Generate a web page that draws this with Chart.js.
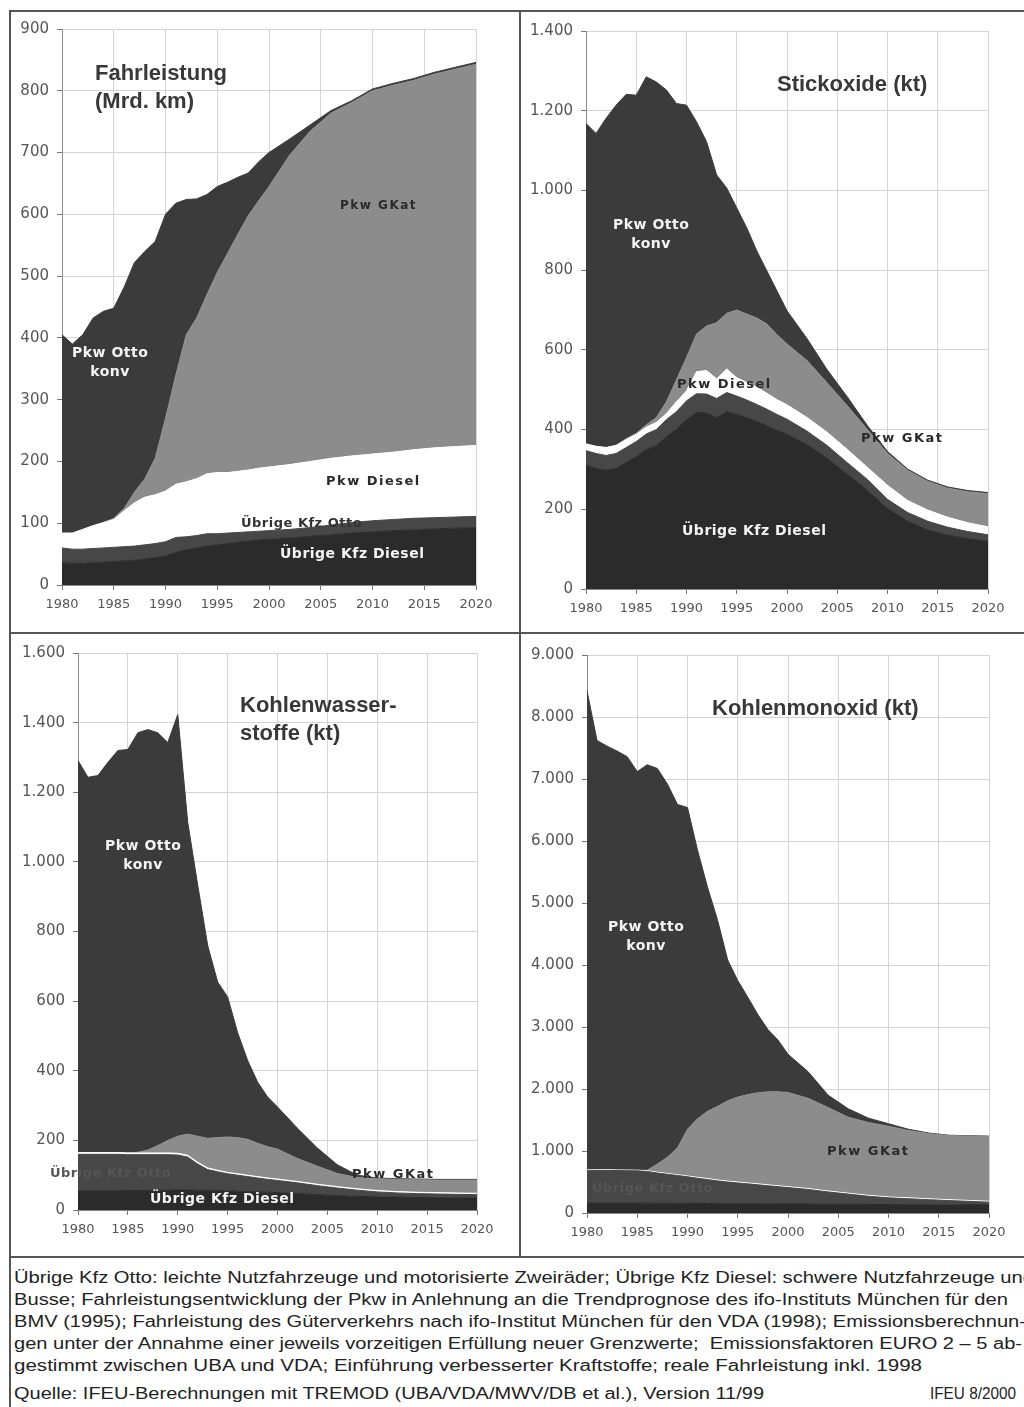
<!DOCTYPE html>
<html lang="de">
<head>
<meta charset="utf-8">
<script src="https://cdn.jsdelivr.net/npm/chart.js@4"></script>
<style>
  body { margin: 0; background: #fff; }
  #page { position: relative; width: 1024px; height: 1407px; overflow: hidden; background: #fff; }
  .ln { position: absolute; background: #555; }
  .box { position: absolute; }
  .ttl { position: absolute; font: bold 22px "Liberation Sans", Arial, sans-serif; color: #383838; line-height: 28px; white-space: nowrap; }
  .lbl { position: absolute; font: bold 14px "DejaVu Sans", sans-serif; white-space: nowrap; line-height: 19px; letter-spacing: 0.5px; }
  .w { color: #f4f4f4; text-align: center; }
  .d { color: #2a2a2a; font-size: 13px; letter-spacing: 1.5px; }
  .m { color: #555; font-size: 13px; letter-spacing: 0.5px; }
  .fl { position: absolute; left: 14px; font: 16px "Liberation Sans", Arial, sans-serif; color: #222; line-height: 22px; white-space: nowrap; transform-origin: 0 0; }
</style>
</head>
<body>
<div id="page">
  <div class="ln" style="left:9px;top:10px;width:1015px;height:2px"></div>
  <div class="ln" style="left:9px;top:10px;width:2px;height:1397px"></div>
  <div class="ln" style="left:519px;top:10px;width:2px;height:1247px"></div>
  <div class="ln" style="left:9px;top:632px;width:1015px;height:2px"></div>
  <div class="ln" style="left:9px;top:1256px;width:1015px;height:2px"></div>

  <div class="box" style="left:10px;top:12px"><canvas id="c1" width="500" height="612"></canvas></div>
  <div class="box" style="left:522px;top:14px"><canvas id="c2" width="498" height="612"></canvas></div>
  <div class="box" style="left:10px;top:636px"><canvas id="c3" width="500" height="616"></canvas></div>
  <div class="box" style="left:522px;top:638px"><canvas id="c4" width="498" height="614"></canvas></div>

  <div class="ttl" style="left:95px;top:59px">Fahrleistung<br>(Mrd. km)</div>
  <div class="ttl" style="left:777px;top:70px">Stickoxide (kt)</div>
  <div class="ttl" style="left:240px;top:691px">Kohlenwasser-<br>stoffe (kt)</div>
  <div class="ttl" style="left:712px;top:694px">Kohlenmonoxid (kt)</div>

  <!-- panel 1 -->
  <div class="lbl w" style="left:72px;top:343px">Pkw Otto<br>konv</div>
  <div class="lbl d" style="left:340px;top:196px;font-size:12px">Pkw GKat</div>
  <div class="lbl d" style="left:326px;top:471px">Pkw Diesel</div>
  <div class="lbl m" style="left:241px;top:513px;color:#333">Übrige Kfz Otto</div>
  <div class="lbl w" style="left:280px;top:544px">Übrige Kfz Diesel</div>
  <!-- panel 2 -->
  <div class="lbl w" style="left:613px;top:215px">Pkw Otto<br>konv</div>
  <div class="lbl d" style="left:677px;top:374px">Pkw Diesel</div>
  <div class="lbl d" style="left:861px;top:428px">Pkw GKat</div>
  <div class="lbl w" style="left:682px;top:521px">Übrige Kfz Diesel</div>
  <!-- panel 3 -->
  <div class="lbl w" style="left:105px;top:836px">Pkw Otto<br>konv</div>
  <div class="lbl m" style="left:50px;top:1163px">Übrige Kfz Otto</div>
  <div class="lbl d" style="left:352px;top:1164px">Pkw GKat</div>
  <div class="lbl w" style="left:150px;top:1189px">Übrige Kfz Diesel</div>
  <!-- panel 4 -->
  <div class="lbl w" style="left:608px;top:917px">Pkw Otto<br>konv</div>
  <div class="lbl d" style="left:827px;top:1141px">Pkw GKat</div>
  <div class="lbl m" style="left:592px;top:1178px">Übrige Kfz Otto</div>

  <div class="fl" style="top:1267px" data-w="1020">Übrige Kfz Otto: leichte Nutzfahrzeuge und motorisierte Zweiräder; Übrige Kfz Diesel: schwere Nutzfahrzeuge und</div>
  <div class="fl" style="top:1289px" data-w="994">Busse; Fahrleistungsentwicklung der Pkw in Anlehnung an die Trendprognose des ifo-Instituts München für den</div>
  <div class="fl" style="top:1311px" data-w="1012">BMV (1995); Fahrleistung des Güterverkehrs nach ifo-Institut München für den VDA (1998); Emissionsberechnun-</div>
  <div class="fl" style="top:1333px" data-w="1008">gen unter der Annahme einer jeweils vorzeitigen Erfüllung neuer Grenzwerte;&nbsp; Emissionsfaktoren EURO 2 – 5 ab-</div>
  <div class="fl" style="top:1355px" data-w="908">gestimmt zwischen UBA und VDA; Einführung verbesserter Kraftstoffe; reale Fahrleistung inkl. 1998</div>
  <div class="fl" style="top:1383px" data-w="750">Quelle: IFEU-Berechnungen mit TREMOD (UBA/VDA/MWV/DB et al.), Version 11/99</div>
  <div class="fl" style="top:1383px;left:930px" data-w="86">IFEU 8/2000</div>
</div>

<script>
// years on the x axis (yearly until 2000, then every second year)
const years = [1980,1981,1982,1983,1984,1985,1986,1987,1988,1989,1990,1991,1992,1993,1994,1995,1996,1997,1998,1999,2000,
               2002,2004,2006,2008,2010,2012,2014,2016,2018,2020];
const xTicks = [1980,1985,1990,1995,2000,2005,2010,2015,2020];

// Fahrleistung (Mrd. km)
const fahrUebrigeDiesel = [36,35,35,36,37,38,39,40,42,44,47,53,57,60,63,65,67,69,71,73,74,76,79,81,84,86,88,89,91,92,93];
const fahrUebrigeOtto   = [24,23,23,23,23,23,23,23,23,23,23,24,21,20,20,18,17,16,15,14,14,14,14,16,17,18,18,19,18,18,18];
const fahrPkwDiesel     = [24,26,32,37,41,45,58,70,77,79,82,86,89,92,97,99,98,99,100,102,103,105,107,108,108,108,109,111,113,114,115];
const fahrPkwGKat       = [0,0,0,0,0,2,4,17,30,59,118,177,238,260,290,324,355,384,412,433,454,501,535,559,572,588,594,598,605,611,617];
const fahrPkwOttoKonv   = [321,306,315,336,342,340,358,372,368,351,330,278,219,193,162,139,115,92,69,63,55,26,10,4,3,3,3,3,3,3,3];

// Stickoxide (kt)
const noxUebrigeDiesel = [310,303,298,303,318,332,350,360,383,400,425,443,442,430,445,438,430,420,410,398,388,362,328,288,248,202,170,148,135,126,120];
const noxUebrigeOtto   = [37,37,37,37,37,38,39,40,42,45,47,47,47,48,48,46,44,43,41,40,38,34,32,29,27,23,22,22,20,18,16];
const noxPkwDiesel     = [17,18,20,20,20,18,17,18,15,25,25,55,59,49,59,46,44,43,40,37,36,34,33,33,30,35,30,28,25,22,20];
const noxPkwGKat       = [0,0,0,1,2,3,6,12,30,55,84,95,112,141,140,170,172,174,174,163,153,143,124,110,95,80,76,72,73,78,83];
const noxPkwOttoKonv   = [804,785,826,853,864,848,873,842,782,693,633,532,462,371,314,256,216,168,133,110,83,55,33,22,10,5,3,3,3,3,3];

// Kohlenwasserstoffe (kt)
const hcUebrigeDiesel = [55,55,55,55,55,56,56,56,57,57,58,58,57,57,56,55,54,53,52,51,50,47,44,41,39,38,37,36,35,35,35];
const hcUebrigeOtto   = [105,105,105,105,105,103,103,103,102,102,100,94,75,59,54,49,46,43,40,37,35,31,26,22,18,14,12,11,11,10,9];
const hcPkwDiesel     = [5,5,5,5,5,5,5,5,5,5,5,5,5,5,4,4,4,4,4,4,4,4,4,4,4,4,4,4,4,4,4];
const hcPkwGKat       = [0,0,0,0,0,0,2,8,21,36,49,61,75,85,94,102,104,103,96,90,86,66,52,38,32,34,35,36,36,37,38];
const hcPkwOttoKonv   = [1126,1078,1083,1121,1155,1159,1205,1208,1186,1143,1211,896,722,554,447,402,302,227,176,143,121,87,52,25,7,2,2,2,2,2,2];

// Kohlenmonoxid (kt)
const coUebrigeDiesel = [160,160,160,160,160,160,158,157,156,155,154,154,153,152,151,150,150,149,148,147,146,144,142,140,138,136,134,133,132,131,130];
const coUebrigeOtto   = [530,528,526,524,522,520,512,488,469,450,431,406,387,366,349,335,320,306,292,278,264,236,198,165,132,109,96,82,68,57,45];
const coPkwDiesel     = [10,10,10,10,10,10,12,13,13,13,13,15,15,15,15,15,15,15,15,15,15,15,15,15,15,15,15,15,15,15,15];
const coPkwGKat       = [0,0,0,0,0,0,8,132,262,432,752,945,1085,1187,1295,1370,1425,1470,1500,1515,1520,1455,1345,1225,1175,1140,1085,1050,1035,1037,1045];
const coPkwOttoKonv   = [7720,6922,6834,6756,6668,6430,6540,6380,6020,5540,5190,4330,3610,3000,2270,1880,1570,1260,1005,835,615,430,200,135,70,40,20,10,5,5,5];

const seriesNames = ["Übrige Kfz Diesel", "Übrige Kfz Otto", "Pkw Diesel", "Pkw GKat", "Pkw Otto konv"];
const seriesColors = ["#2b2b2b", "#474747", "#ffffff", "#8c8c8c", "#3b3b3b"];

// 1400 -> "1.400"
let deNum = function(v) {
    return String(v).replace(/\B(?=(\d{3})+(?!\d))/g, ".");
};

let makeChart = function(id, values, yMax, yStep, yWidth, xHeight, pad) {
    let ctx = document.getElementById(id).getContext("2d");
    let datasets = values.map(function(vals, i) {
        return {
            label: seriesNames[i],
            data: vals,
            backgroundColor: seriesColors[i],
            borderColor: seriesColors[i],
            borderWidth: 1,
            pointRadius: 0,
            tension: 0,
            fill: i === 0 ? "origin" : "-1"
        };
    });
    return new Chart(ctx, {
        type: "line",
        data: { labels: years, datasets: datasets },
        options: {
            responsive: false,
            animation: false,
            layout: { padding: pad },
            plugins: { legend: { display: false }, tooltip: { enabled: false } },
            scales: {
                x: {
                    type: "linear",
                    min: 1980,
                    max: 2020,
                    afterFit: function(s) { s.height = xHeight; },
                    afterBuildTicks: function(s) { s.ticks = xTicks.map(function(v) { return { value: v }; }); },
                    grid: { color: "#d4d4d4", tickColor: "#777", tickLength: 5 },
                    border: { color: "#8a8a8a", width: 1 },
                    ticks: {
                        autoSkip: false,
                        maxRotation: 0,
                        padding: 7,
                        color: "#555",
                        font: { family: "DejaVu Sans", size: 13 },
                        callback: function(v) { return String(v); }
                    }
                },
                y: {
                    stacked: true,
                    min: 0,
                    max: yMax,
                    afterFit: function(s) { s.width = yWidth; },
                    grid: { color: "#d4d4d4", tickColor: "#777", tickLength: 5 },
                    border: { color: "#8a8a8a", width: 1 },
                    ticks: {
                        stepSize: yStep,
                        padding: 8,
                        color: "#555",
                        font: { family: "DejaVu Sans", size: 15 },
                        callback: function(v) { return deNum(v); }
                    }
                }
            }
        }
    });
};

makeChart("c1", [fahrUebrigeDiesel, fahrUebrigeOtto, fahrPkwDiesel, fahrPkwGKat, fahrPkwOttoKonv],
          900, 100, 52, 39, { top: 14, right: 34, left: 0, bottom: 0 });
makeChart("c2", [noxUebrigeDiesel, noxUebrigeOtto, noxPkwDiesel, noxPkwGKat, noxPkwOttoKonv],
          1400, 200, 64, 37, { top: 15, right: 32, left: 0, bottom: 0 });
makeChart("c3", [hcUebrigeDiesel, hcUebrigeOtto, hcPkwDiesel, hcPkwGKat, hcPkwOttoKonv],
          1600, 200, 68, 42, { top: 14, right: 33, left: 0, bottom: 0 });
makeChart("c4", [coUebrigeDiesel, coUebrigeOtto, coPkwDiesel, coPkwGKat, coPkwOttoKonv],
          9000, 1000, 65, 39, { top: 16, right: 31, left: 0, bottom: 0 });

// stretch the footer lines to the widths of the scan
document.querySelectorAll(".fl").forEach(function(el) {
    let target = +el.getAttribute("data-w");
    let w = el.getBoundingClientRect().width;
    if (w > 0) el.style.transform = "scaleX(" + (target / w) + ")";
});
</script>
</body>
</html>
